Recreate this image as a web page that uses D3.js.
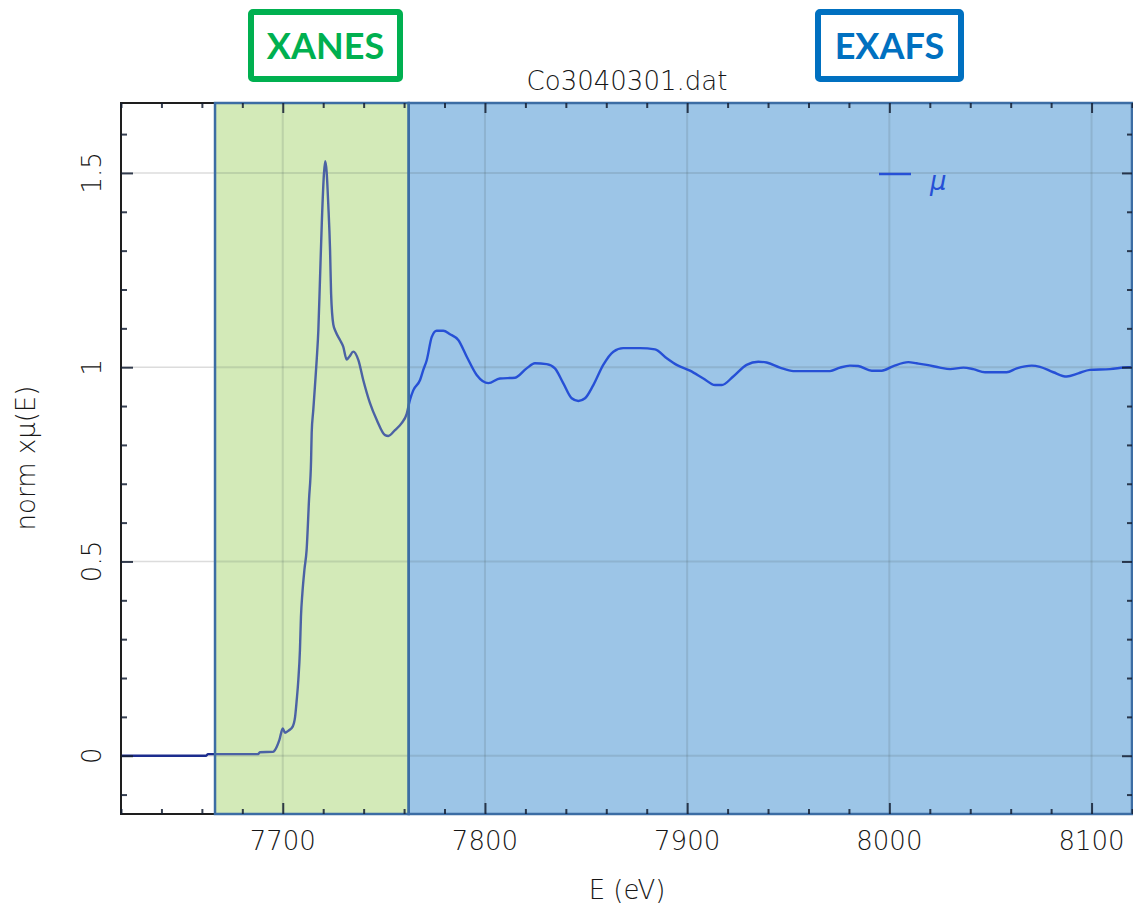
<!DOCTYPE html>
<html>
<head>
<meta charset="utf-8">
<script src="https://cdn.jsdelivr.net/npm/d3@7"></script>
<style>
  html, body { margin: 0; padding: 0; background: #fff; }
  svg { display: block; }
</style>
</head>
<body>
<svg id="chart" width="1133" height="906"></svg>
<script>
// Normalized Co K-edge absorption spectrum, norm μ(E) versus photon energy (eV)
const energy = [
  7620, 7662.0, 7663.0, 7678.9, 7687.8, 7688.7, 7695.2, 7696.2, 7698.3, 7700.0,
  7701.1, 7702.7, 7704.9, 7706.1, 7706.9, 7707.7, 7708.5, 7709.0, 7709.7, 7710.7,
  7711.8, 7713.0, 7714.0, 7714.3, 7715.1, 7715.9, 7716.8, 7717.6, 7718.4, 7719.3,
  7720.4, 7721.0, 7721.7, 7722.5, 7723.4, 7723.9, 7725.0, 7726.3, 7728.3, 7729.9,
  7731.6, 7732.9, 7734.9, 7737.4, 7739.8, 7743.1, 7746.5, 7750.6, 7752.2, 7755.5,
  7758.8, 7761.3, 7762.9, 7764.6, 7767.9, 7769.5, 7771.2, 7773.7, 7776.1, 7779.4,
  7782.7, 7786.8, 7791.0, 7795.9, 7801.7, 7807.4, 7814.9, 7820.6, 7824.7, 7830.5,
  7834.6, 7838.7, 7842.9, 7846.2, 7849.5, 7853.6, 7858.5, 7863.5, 7868.4, 7876.7,
  7884.1, 7889.9, 7894.8, 7901.4, 7908.0, 7913.8, 7917.1, 7922.8, 7929.4, 7935.2,
  7939.3, 7945.9, 7952.5, 7970.6, 7975.6, 7980.5, 7984.6, 7991.3, 7996.2, 8002.0,
  8009.4, 8013.5, 8018.5, 8025.0, 8030.0, 8036.6, 8041.5, 8047.3, 8058.0, 8063.0,
  8070.4, 8074.5, 8081.1, 8087.7, 8093.4, 8099.2, 8109.1, 8118.2, 8120
];
const mu = [
  0.000, 0.000, 0.004, 0.004, 0.004, 0.009, 0.010, 0.015, 0.040, 0.070,
  0.059, 0.064, 0.075, 0.100, 0.143, 0.195, 0.272, 0.358, 0.418, 0.478,
  0.530, 0.660, 0.760, 0.830, 0.890, 0.950, 1.020, 1.095, 1.224, 1.370,
  1.500, 1.530, 1.503, 1.420, 1.300, 1.190, 1.110, 1.090, 1.070, 1.053,
  1.020, 1.027, 1.040, 1.018, 0.967, 0.908, 0.864, 0.825, 0.823, 0.838,
  0.856, 0.880, 0.916, 0.941, 0.967, 0.993, 1.018, 1.078, 1.094, 1.094,
  1.085, 1.070, 1.027, 0.980, 0.959, 0.971, 0.973, 0.997, 1.010, 1.008,
  0.997, 0.959, 0.920, 0.913, 0.920, 0.954, 1.006, 1.040, 1.049, 1.049,
  1.046, 1.023, 1.006, 0.991, 0.971, 0.954, 0.954, 0.976, 1.006, 1.014,
  1.012, 0.999, 0.990, 0.990, 0.999, 1.004, 1.003, 0.991, 0.991, 1.003,
  1.013, 1.010, 1.006, 0.999, 0.995, 0.999, 0.995, 0.987, 0.987, 0.997,
  1.004, 1.001, 0.987, 0.976, 0.984, 0.993, 0.995, 1.000, 1.000
];

// Axis settings
const xDomain = [7620, 8120];
const yDomain = [-0.15, 1.68];
const xMajorTicks = [7700, 7800, 7900, 8000, 8100];
const yMajorTicks = [0, 0.5, 1, 1.5];
const yTickLabels = ["0", "0.5", "1", "1.5"];

// Energy windows for the two spectral regions
const regionNames = ["XANES", "EXAFS"];
const regionStart = [7666.5, 7762.3];
const regionEnd = [7762.3, 8120];

const titleText = "Co3040301.dat";
const xLabel = "E (eV)";
const yLabel = "norm xμ(E)";
const legendLabel = "μ";

const svg = d3.select("#chart");
const plot = { left: 121, right: 1132, top: 103, bottom: 814 };

const x = d3.scaleLinear().domain(xDomain).range([plot.left, plot.right]);
const y = d3.scaleLinear().domain(yDomain).range([plot.bottom, plot.top]);

const font = "'DejaVu Sans', sans-serif";
const textColor = "#161616";

// Light gridlines under everything
const grid = svg.append("g");
grid.selectAll("line.gx").data(xMajorTicks).join("line")
  .attr("x1", d => x(d)).attr("x2", d => x(d))
  .attr("y1", plot.top).attr("y2", plot.bottom)
  .attr("stroke", "#dcdcdc").attr("stroke-width", 1.5);
grid.selectAll("line.gy").data(yMajorTicks).join("line")
  .attr("x1", plot.left).attr("x2", plot.right)
  .attr("y1", d => y(d)).attr("y2", d => y(d))
  .attr("stroke", "#dcdcdc").attr("stroke-width", 1.5);

// Shaded regions
const regionFill = ["#d3eab8", "#9cc5e7"];
const regions = svg.append("g");
regionNames.forEach((name, i) => {
  regions.append("rect")
    .attr("x", x(regionStart[i]))
    .attr("y", plot.top)
    .attr("width", x(regionEnd[i]) - x(regionStart[i]))
    .attr("height", plot.bottom - plot.top)
    .attr("fill", regionFill[i]);
});

// Gridlines tinted over the shaded area
const gridOver = svg.append("g");
const shadeLeft = x(regionStart[0]);
gridOver.selectAll("line.gx").data(xMajorTicks).join("line")
  .attr("x1", d => x(d)).attr("x2", d => x(d))
  .attr("y1", plot.top).attr("y2", plot.bottom)
  .attr("stroke", "rgba(70,90,90,0.16)").attr("stroke-width", 2);
gridOver.selectAll("line.gy").data(yMajorTicks).join("line")
  .attr("x1", shadeLeft).attr("x2", plot.right)
  .attr("y1", d => y(d)).attr("y2", d => y(d))
  .attr("stroke", "rgba(70,90,90,0.16)").attr("stroke-width", 2);

// Spectrum, coloured per region through clip paths
const pts = energy.map((e, i) => [e, mu[i]]);
const line = d3.line().x(d => x(d[0])).y(d => y(d[1])).curve(d3.curveMonotoneX);
const defs = svg.append("defs");
const segments = [
  { id: "clipPre", x0: plot.left, x1: x(regionStart[0]), color: "#1c2c8e", w: 2.4 },
  { id: "clipXanes", x0: x(regionStart[0]), x1: x(regionEnd[0]), color: "#4b62a4", w: 2.4 },
  { id: "clipExafs", x0: x(regionStart[1]), x1: plot.right, color: "#2650d6", w: 2.4 }
];
segments.forEach(s => {
  defs.append("clipPath").attr("id", s.id).append("rect")
    .attr("x", s.x0).attr("y", plot.top - 5)
    .attr("width", s.x1 - s.x0).attr("height", plot.bottom - plot.top + 10);
  svg.append("path").datum(pts)
    .attr("d", line)
    .attr("fill", "none")
    .attr("stroke", s.color)
    .attr("stroke-width", s.w)
    .attr("stroke-linejoin", "round")
    .attr("clip-path", `url(#${s.id})`);
});

// Plot frame
svg.append("rect")
  .attr("x", plot.left).attr("y", plot.top)
  .attr("width", plot.right - plot.left).attr("height", plot.bottom - plot.top)
  .attr("fill", "none").attr("stroke", "#1e1e1e").attr("stroke-width", 2);

// Region outlines
regionNames.forEach((name, i) => {
  svg.append("rect")
    .attr("x", x(regionStart[i]))
    .attr("y", plot.top)
    .attr("width", x(regionEnd[i]) - x(regionStart[i]))
    .attr("height", plot.bottom - plot.top)
    .attr("fill", "none")
    .attr("stroke", "#3c6da4")
    .attr("stroke-width", 2.5);
});

// Inward ticks on all four sides
const xMinor = d3.range(xDomain[0], xDomain[1] + 0.1, 20).filter(v => !xMajorTicks.includes(v));
const yMinor = d3.range(-0.1, 1.65, 0.1).map(v => +v.toFixed(2)).filter(v => !yMajorTicks.includes(v));
const tickColor = "rgba(20,30,50,0.85)";

const axisBottom = d3.axisBottom(x).tickValues(xMajorTicks).tickSize(-11).tickFormat("");
const axisBottomMinor = d3.axisBottom(x).tickValues(xMinor).tickSize(-5).tickFormat("");
const axisTop = d3.axisTop(x).tickValues(xMajorTicks).tickSize(-10).tickFormat("");
const axisTopMinor = d3.axisTop(x).tickValues(xMinor).tickSize(-5).tickFormat("");
const axisLeft = d3.axisLeft(y).tickValues(yMajorTicks).tickSize(-12).tickFormat("");
const axisLeftMinor = d3.axisLeft(y).tickValues(yMinor).tickSize(-6).tickFormat("");
const axisRight = d3.axisRight(y).tickValues(yMajorTicks).tickSize(-10).tickFormat("");
const axisRightMinor = d3.axisRight(y).tickValues(yMinor).tickSize(-5).tickFormat("");

function drawAxis(gen, tx, ty) {
  const g = svg.append("g").attr("transform", `translate(${tx},${ty})`).call(gen);
  g.select(".domain").remove();
  g.selectAll(".tick line").attr("stroke", tickColor).attr("stroke-width", 2);
  return g;
}
drawAxis(axisBottom, 0, plot.bottom);
drawAxis(axisBottomMinor, 0, plot.bottom);
drawAxis(axisTop, 0, plot.top);
drawAxis(axisTopMinor, 0, plot.top);
drawAxis(axisLeft, plot.left, 0);
drawAxis(axisLeftMinor, plot.left, 0);
drawAxis(axisRight, plot.right, 0);
drawAxis(axisRightMinor, plot.right, 0);

// Tick labels
svg.append("g").selectAll("text").data(xMajorTicks).join("text")
  .attr("x", d => x(d)).attr("y", 850)
  .attr("text-anchor", "middle")
  .attr("font-family", font).attr("font-size", 26).attr("font-weight", 300)
  .attr("fill", textColor)
  .text(d => d);

svg.append("g").selectAll("text").data(yMajorTicks).join("text")
  .attr("transform", d => `translate(101,${y(d)}) rotate(-90)`)
  .attr("text-anchor", "middle")
  .attr("font-family", font).attr("font-size", 26).attr("font-weight", 300)
  .attr("fill", textColor)
  .text((d, i) => yTickLabels[i]);

// Title and axis titles
svg.append("text")
  .attr("x", 627).attr("y", 90)
  .attr("text-anchor", "middle")
  .attr("font-family", font).attr("font-size", 26).attr("font-weight", 300)
  .attr("fill", textColor)
  .text(titleText);

svg.append("text")
  .attr("x", 627).attr("y", 899)
  .attr("text-anchor", "middle")
  .attr("font-family", font).attr("font-size", 26).attr("font-weight", 300)
  .attr("fill", textColor)
  .text(xLabel);

svg.append("text")
  .attr("transform", `translate(35,458) rotate(-90)`)
  .attr("text-anchor", "middle")
  .attr("font-family", font).attr("font-size", 26).attr("font-weight", 300)
  .attr("fill", textColor)
  .text(yLabel);

// Legend
svg.append("line")
  .attr("x1", 879).attr("x2", 911).attr("y1", 174).attr("y2", 174)
  .attr("stroke", "#2650d6").attr("stroke-width", 2.5);
svg.append("text")
  .attr("x", 930).attr("y", 190)
  .attr("font-family", font).attr("font-size", 26).attr("font-style", "italic")
  .attr("fill", "#2650d6")
  .text(legendLabel);

// Region tags above the plot
const tagColor = ["#00b050", "#0070c0"];
const tagBox = [
  { x: 251, w: 149 },
  { x: 818, w: 143 }
];
regionNames.forEach((name, i) => {
  svg.append("rect")
    .attr("x", tagBox[i].x).attr("y", 12)
    .attr("width", tagBox[i].w).attr("height", 67)
    .attr("rx", 2)
    .attr("fill", "#fff")
    .attr("stroke", tagColor[i]).attr("stroke-width", 6);
  svg.append("text")
    .attr("x", tagBox[i].x + tagBox[i].w / 2).attr("y", 59)
    .attr("text-anchor", "middle")
    .attr("font-family", "Lato, 'Open Sans', sans-serif")
    .attr("font-weight", 700).attr("font-size", 36)
    .attr("fill", tagColor[i])
    .text(name);
});
</script>
</body>
</html>
